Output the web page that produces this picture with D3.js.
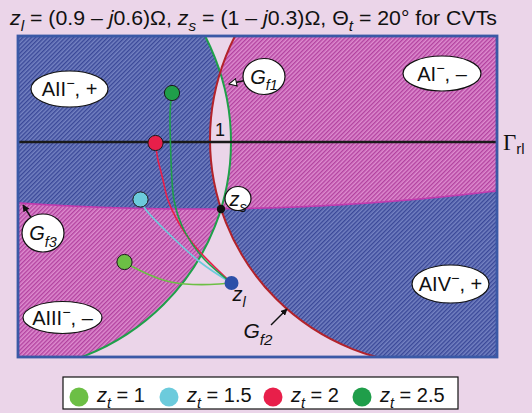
<!DOCTYPE html>
<html>
<head>
<meta charset="utf-8">
<script src="https://cdn.jsdelivr.net/npm/d3@7"></script>
<style>
  html, body { margin: 0; padding: 0; background: #ebd5e9; }
  svg { display: block; font-family: "Liberation Sans", Arial, Helvetica, sans-serif; }
</style>
</head>
<body>
<svg id="chart" width="532" height="413"></svg>
<script>
// ---- data (normalised plane, Γrl axis at y = 0, zs at x = 0) ----
const ztValues = [1, 1.5, 2, 2.5];
const ztColors = ["#6cbf45", "#6ccbdc", "#e81f4a", "#1f9e4a"];
const ztLabels = ["1", "1.5", "2", "2.5"];

// starting impedances for each characteristic impedance zt
const startX = [-0.965, -0.805, -0.655, -0.49];
const startY = [-1.20, -0.575, -0.01, 0.49];

// transformation paths from each start point to the load zl
const pathZt1 = [[-0.965, -1.20], [-0.86, -1.26], [-0.61, -1.37], [-0.36, -1.42], [-0.11, -1.425], [0.105, -1.41]];
const pathZt15 = [[-0.805, -0.575], [-0.75, -0.68], [-0.54, -0.90], [-0.21, -1.20], [0.105, -1.41]];
const pathZt2 = [[-0.655, -0.01], [-0.63, -0.18], [-0.58, -0.38], [-0.53, -0.58], [-0.41, -0.83], [-0.21, -1.10], [0.105, -1.41]];
const pathZt25 = [[-0.49, 0.49], [-0.51, 0.27], [-0.50, -0.18], [-0.47, -0.58], [-0.36, -0.90], [-0.16, -1.18], [0.105, -1.41]];
const ztPaths = [pathZt1, pathZt15, pathZt2, pathZt25];

const zs = [0, -0.67];
const zl = [0.105, -1.41];

// boundary circles: [centre x, centre y, radius]
const gf1 = [-2.195, 0.0, 2.295];
const gf2 = [2.146, 0.027, 2.256];
const gf3 = [-0.267, 24.67, 25.34];

// ---- layout ----
const svg = d3.select("#chart");
const x = d3.scaleLinear().domain([-2.03, 2.76]).range([18, 497]);
const y = d3.scaleLinear().domain([1.06, -2.15]).range([36, 357]);
const pr = r => x(r) - x(0);

const defs = svg.append("defs");
function hatch(id, bg, fg) {
  const p = defs.append("pattern").attr("id", id)
    .attr("patternUnits", "userSpaceOnUse").attr("width", 3).attr("height", 3)
    .attr("patternTransform", "rotate(-45)");
  p.append("rect").attr("width", 3).attr("height", 3).attr("fill", bg);
  p.append("rect").attr("width", 3).attr("height", 1.4).attr("fill", fg);
}
hatch("hBlue", "#7482c2", "#3a4898");
hatch("hMag", "#de8ccf", "#b2429f");

// lower arc of Gf3 sampled across the plane
const gf3Y = xv => gf3[1] - Math.sqrt(gf3[2] * gf3[2] - (xv - gf3[0]) * (xv - gf3[0]));
const xs = d3.range(-2.2, 2.95, 0.02);
const gf3Arc = xs.map(v => [v, gf3Y(v)]);
const lin = d3.line().x(d => x(d[0])).y(d => y(d[1]));
const abovePoly = gf3Arc.concat([[xs[xs.length - 1], 1.5], [xs[0], 1.5]]);

defs.append("clipPath").attr("id", "frameClip").append("rect")
  .attr("x", x.range()[0]).attr("y", y.range()[0])
  .attr("width", x.range()[1] - x.range()[0]).attr("height", y.range()[1] - y.range()[0]);
defs.append("clipPath").attr("id", "aboveGf3").append("path").attr("d", lin(abovePoly) + "Z");
defs.append("clipPath").attr("id", "inGf2").append("circle")
  .attr("cx", x(gf2[0])).attr("cy", y(gf2[1])).attr("r", pr(gf2[2]));

const plot = svg.append("g").attr("clip-path", "url(#frameClip)");
const circ = (g, c) => g.append("circle").attr("cx", x(c[0])).attr("cy", y(c[1])).attr("r", pr(c[2]));

// background of the plane
plot.append("rect").attr("x", 18).attr("y", 36).attr("width", 479).attr("height", 321).attr("fill", "#ebd5e9");
// inside Gf1: magenta below Gf3, blue above
circ(plot, gf1).attr("fill", "url(#hMag)");
circ(plot.append("g").attr("clip-path", "url(#aboveGf3)"), gf1).attr("fill", "url(#hBlue)");
// inside Gf2: blue below Gf3, magenta above
circ(plot, gf2).attr("fill", "url(#hBlue)");
circ(plot.append("g").attr("clip-path", "url(#aboveGf3)"), gf2).attr("fill", "url(#hMag)");
// overlap of both circles stays plain
circ(plot.append("g").attr("clip-path", "url(#inGf2)"), gf1).attr("fill", "#ebd5e9");

// boundaries
plot.append("path").attr("d", lin(gf3Arc)).attr("fill", "none").attr("stroke", "#c03aae").attr("stroke-width", 1.6);
circ(plot, gf1).attr("fill", "none").attr("stroke", "#1fa04a").attr("stroke-width", 2);
circ(plot, gf2).attr("fill", "none").attr("stroke", "#b3232b").attr("stroke-width", 2);

// Γrl axis
plot.append("line").attr("x1", x(-2.03)).attr("x2", x(2.76)).attr("y1", y(0)).attr("y2", y(0))
  .attr("stroke", "#1a1a1a").attr("stroke-width", 2.6);

// transformation paths
const line = d3.line().x(d => x(d[0])).y(d => y(d[1])).curve(d3.curveNatural);
ztPaths.forEach((p, i) => {
  plot.append("path").attr("d", line(p)).attr("fill", "none")
    .attr("stroke", ztColors[i]).attr("stroke-width", 1.6);
});

// frame
svg.append("rect").attr("x", 18).attr("y", 36).attr("width", 479).attr("height", 321)
  .attr("fill", "none").attr("stroke", "#3a59a6").attr("stroke-width", 2.8);

// start points
ztValues.forEach((v, i) => {
  svg.append("circle").attr("cx", x(startX[i])).attr("cy", y(startY[i])).attr("r", 7.6)
    .attr("fill", ztColors[i]).attr("stroke", "#1a1a1a").attr("stroke-width", 1);
});
// load and source
svg.append("circle").attr("cx", x(zl[0])).attr("cy", y(zl[1])).attr("r", 7).attr("fill", "#2c4fa8");
svg.append("circle").attr("cx", x(zs[0])).attr("cy", y(zs[1])).attr("r", 4.2).attr("fill", "#111");

// ---- rich text helper ----
function rich(g, px, py, parts, size, anchor) {
  const t = g.append("text").attr("x", px).attr("y", py).attr("font-size", size)
    .attr("text-anchor", anchor || "start").attr("fill", "#111");
  let shift = 0;
  parts.forEach(p => {
    const s = typeof p === "string" ? { t: p } : p;
    const target = s.sub ? size * 0.32 : s.sup ? -size * 0.4 : 0;
    const ts = t.append("tspan").text(s.t).attr("dy", target - shift);
    shift = target;
    if (s.sub || s.sup) ts.attr("font-size", size * 0.72);
    if (s.i) ts.attr("font-style", "italic");
    if (s.f) ts.attr("font-family", s.f);
  });
  return t;
}

function bubble(cx, cy, rx, ry, parts, size) {
  const g = svg.append("g");
  g.append("ellipse").attr("cx", cx).attr("cy", cy).attr("rx", rx).attr("ry", ry)
    .attr("fill", "#fff").attr("stroke", "#111").attr("stroke-width", 1.2);
  rich(g, cx, cy + size * 0.36, parts, size, "middle");
}

// region labels
bubble(x(-1.515), y(0.53), 38.5, 18, ["AII", { t: "\u2212", sup: true }, ", +"], 20);
bubble(x(2.21), y(0.685), 39, 17.5, ["AI", { t: "\u2212", sup: true }, ", \u2013"], 20);
bubble(x(-1.585), y(-1.755), 39.5, 16, ["AIII", { t: "\u2212", sup: true }, ", \u2013"], 20);
bubble(x(2.295), y(-1.42), 38.5, 19, ["AIV", { t: "\u2212", sup: true }, ", +"], 20);

// arrow markers
defs.append("marker").attr("id", "arrFill").attr("viewBox", "0 0 10 10").attr("refX", 9).attr("refY", 5)
  .attr("markerWidth", 7).attr("markerHeight", 7).attr("markerUnits", "userSpaceOnUse").attr("orient", "auto")
  .append("path").attr("d", "M0,0 L10,5 L0,10 Z").attr("fill", "#111");
defs.append("marker").attr("id", "arrOpen").attr("viewBox", "0 0 12 12").attr("refX", 11).attr("refY", 6)
  .attr("markerWidth", 9).attr("markerHeight", 9).attr("markerUnits", "userSpaceOnUse").attr("orient", "auto")
  .append("path").attr("d", "M1,1 L11,6 L1,11 Z").attr("fill", "#fff").attr("stroke", "#111").attr("stroke-width", 1.4);

function arrow(x1, y1, x2, y2, marker) {
  svg.append("line").attr("x1", x1).attr("y1", y1).attr("x2", x2).attr("y2", y2)
    .attr("stroke", "#111").attr("stroke-width", 1.4).attr("marker-end", `url(#${marker})`);
}

// Gf1 label
arrow(x(0.26), y(0.62), x(0.08), y(0.58), "arrOpen");
bubble(x(0.43), y(0.655), 21, 18, [{ t: "G", i: true }, { t: "f1", sub: true, i: true }], 20);
// Gf3 label
arrow(x(-1.89), y(-0.77), x(-1.98), y(-0.63), "arrFill");
bubble(x(-1.78), y(-0.91), 21, 19, [{ t: "G", i: true }, { t: "f3", sub: true, i: true }], 20);
// zs label
bubble(x(0.17), y(-0.565), 13, 12, [{ t: "z", i: true }, { t: "s", sub: true, i: true }], 20);
// Gf2 label
arrow(x(0.50), y(-1.83), x(0.66), y(-1.67), "arrFill");
rich(svg, x(0.37), y(-1.96), [{ t: "G", i: true }, { t: "f2", sub: true, i: true }], 21, "middle");
// zl label
rich(svg, x(0.18), y(-1.59), [{ t: "z", i: true }, { t: "l", sub: true, i: true }], 20, "middle");
// lens label
svg.append("text").attr("x", x(-0.01)).attr("y", y(0.06)).attr("text-anchor", "middle")
  .attr("font-size", 18).attr("fill", "#111").text("1");

// Γrl axis label
const gl = svg.append("text").attr("x", 503).attr("y", y(0) + 8).attr("fill", "#111");
gl.append("tspan").text("\u0393").attr("font-family", "'Liberation Serif', 'Times New Roman', serif").attr("font-size", 23);
gl.append("tspan").text("rl").attr("font-size", 15).attr("dy", 4);

// title
rich(svg, 10, 25, [
  { t: "z", i: true }, { t: "l", sub: true, i: true }, " = (0.9 \u2013 ", { t: "j", i: true }, "0.6)\u03a9, ",
  { t: "z", i: true }, { t: "s", sub: true, i: true }, " = (1 \u2013 ", { t: "j", i: true }, "0.3)\u03a9, \u0398",
  { t: "t", sub: true, i: true }, " = 20\u00b0 for CVTs"
], 20, "start").attr("textLength", 487).attr("lengthAdjust", "spacingAndGlyphs");

// legend
const lg = svg.append("g");
lg.append("rect").attr("x", 63).attr("y", 377).attr("width", 395).attr("height", 32)
  .attr("fill", "#fff").attr("stroke", "#111").attr("stroke-width", 1.2);
const legDotX = [79, 169, 273, 362];
ztValues.forEach((v, i) => {
  lg.append("circle").attr("cx", legDotX[i]).attr("cy", 397).attr("r", 9.5).attr("fill", ztColors[i]);
  rich(lg, legDotX[i] + 18, 402, [{ t: "z", i: true }, { t: "t", sub: true, i: true }, " = " + ztLabels[i]], 20, "start");
});
</script>
</body>
</html>
